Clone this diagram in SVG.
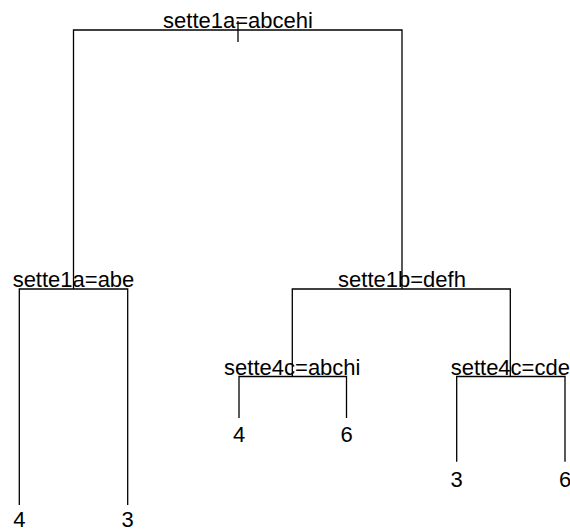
<svg xmlns="http://www.w3.org/2000/svg" width="570" height="531" viewBox="0 0 570 531">
  <style>
    .edge { fill: none; stroke: #000; stroke-width: 1.3; }
    .split { font-family: "Liberation Sans", Arial, sans-serif; font-size: 22px; fill: #000; text-anchor: middle; }
    .leaf { font-family: "Liberation Sans", Arial, sans-serif; font-size: 22px; fill: #000; text-anchor: middle; }
  </style>
  <rect width="570" height="531" fill="#fff"/>

  <!-- branches -->
  <g id="connectors">
    <path class="edge" d="M238,21 V42"/>
    <path class="edge" d="M73.5,289 V30 H402 V289"/>
    <path class="edge" d="M19.3,505 V289 H127.7 V505"/>
    <path class="edge" d="M292.3,376.5 V289 H510.3 V376.5"/>
    <path class="edge" d="M239,418 V376.5 H346.5 V418"/>
    <path class="edge" d="M456.7,461.7 V376.5 H565 V461.7"/>
  </g>

  <!-- split nodes -->
  <g id="node-root"><text class="split" x="238" y="28">sette1a=abcehi</text></g>
  <g id="node-left"><text class="split" x="73.5" y="287">sette1a=abe</text></g>
  <g id="node-right"><text class="split" x="402" y="287">sette1b=defh</text></g>
  <g id="node-right-left"><text class="split" x="292.3" y="374.5">sette4c=abchi</text></g>
  <g id="node-right-right"><text class="split" x="510.3" y="374.5">sette4c=cde</text></g>

  <!-- leaves -->
  <g id="leaf-1"><text class="leaf" x="19.3" y="527">4</text></g>
  <g id="leaf-2"><text class="leaf" x="127.7" y="527">3</text></g>
  <g id="leaf-3"><text class="leaf" x="239" y="442">4</text></g>
  <g id="leaf-4"><text class="leaf" x="346.5" y="442">6</text></g>
  <g id="leaf-5"><text class="leaf" x="456.7" y="486.5">3</text></g>
  <g id="leaf-6"><text class="leaf" x="565" y="486.5">6</text></g>
</svg>
